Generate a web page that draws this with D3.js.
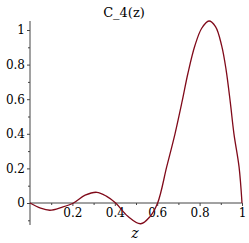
<!DOCTYPE html>
<html>
<head>
  <style>
    body { margin: 0; background: #fff; }
  </style>
  <script src="https://cdn.jsdelivr.net/npm/d3@7/dist/d3.min.js"></script>
</head>
<body>
  <svg id="chart" width="249" height="243"></svg>
  <script>
    // values
    var zVals = [0, 0.05, 0.094, 0.15, 0.205, 0.26, 0.315, 0.36, 0.404, 0.46, 0.522, 0.565, 0.602,
      0.645, 0.684, 0.718, 0.745, 0.778, 0.81, 0.844, 0.875, 0.904, 0.925, 0.945, 0.962, 0.986, 1.0];
    var cVals = [0, -0.03, -0.042, -0.025, 0, 0.045, 0.062, 0.04, 0, -0.075, -0.12, -0.08, 0,
      0.21, 0.40, 0.59, 0.75, 0.91, 1.01, 1.052, 1.02, 0.91, 0.77, 0.58, 0.40, 0.21, 0];
    var xTicks = [0.2, 0.4, 0.6, 0.8, 1];
    var yTicks = [0, 0.2, 0.4, 0.6, 0.8, 1];
    var xMinor = [0.1, 0.3, 0.5, 0.7, 0.9];
    var yMinor = [-0.1, 0.1, 0.3, 0.5, 0.7, 0.9];

    var data = zVals.map((z, i) => ({ z: z, c: cVals[i] }));
    var serif = 'DejaVu Serif';

    var svg = d3.select('#chart');
    var x = d3.scaleLinear().domain([0, 1]).range([30, 242]);
    var y = d3.scaleLinear().domain([0, 1]).range([203, 30]);
    var axisColor = '#444';

    // y axis
    svg.append('line')
      .attr('x1', x(0)).attr('x2', x(0))
      .attr('y1', y(1.052)).attr('y2', y(-0.127))
      .attr('stroke', axisColor).attr('stroke-width', 1);
    var yAx = svg.append('g').attr('transform', 'translate(' + x(0) + ',0)')
      .call(d3.axisLeft(y).tickValues(yTicks).tickSize(3).tickFormat(d3.format('')));
    yAx.attr('font-family', serif).attr('font-size', 12);
    yAx.select('.domain').remove();
    yAx.selectAll('line').attr('stroke', axisColor);
    yAx.selectAll('text').attr('x', -5).attr('fill', '#000');
    svg.append('g').attr('transform', 'translate(' + x(0) + ',0)')
      .call(d3.axisLeft(y).tickValues(yMinor).tickSize(2).tickFormat(''))
      .call(g => g.select('.domain').remove())
      .selectAll('line').attr('stroke', axisColor);

    // x axis
    svg.append('line')
      .attr('x1', x(0)).attr('x2', x(1))
      .attr('y1', y(0)).attr('y2', y(0))
      .attr('stroke', axisColor).attr('stroke-width', 1);
    var xAx = svg.append('g').attr('transform', 'translate(0,' + y(0) + ')')
      .call(d3.axisBottom(x).tickValues(xTicks).tickSize(3).tickFormat(d3.format('')));
    xAx.attr('font-family', serif).attr('font-size', 12);
    xAx.select('.domain').remove();
    xAx.selectAll('line').attr('stroke', axisColor);
    xAx.selectAll('text').attr('y', 5).attr('fill', '#000');
    svg.append('g').attr('transform', 'translate(0,' + y(0) + ')')
      .call(d3.axisBottom(x).tickValues(xMinor).tickSize(2).tickFormat(''))
      .call(g => g.select('.domain').remove())
      .selectAll('line').attr('stroke', axisColor);

    // curve
    var line = d3.line()
      .x(d => x(d.z))
      .y(d => y(d.c))
      .curve(d3.curveCatmullRom.alpha(0.5));
    svg.append('path')
      .datum(data)
      .attr('fill', 'none')
      .attr('stroke', '#800a1a')
      .attr('stroke-width', 1.3)
      .attr('d', line);

    // labels
    svg.append('text').attr('x', 124).attr('y', 17)
      .attr('text-anchor', 'middle')
      .attr('font-family', serif).attr('font-size', 13).text('C_4(z)');
    svg.append('text').attr('x', 135).attr('y', 238)
      .attr('text-anchor', 'middle')
      .attr('font-family', serif).attr('font-size', 14).attr('font-style', 'italic').text('z');
  </script>
</body>
</html>
